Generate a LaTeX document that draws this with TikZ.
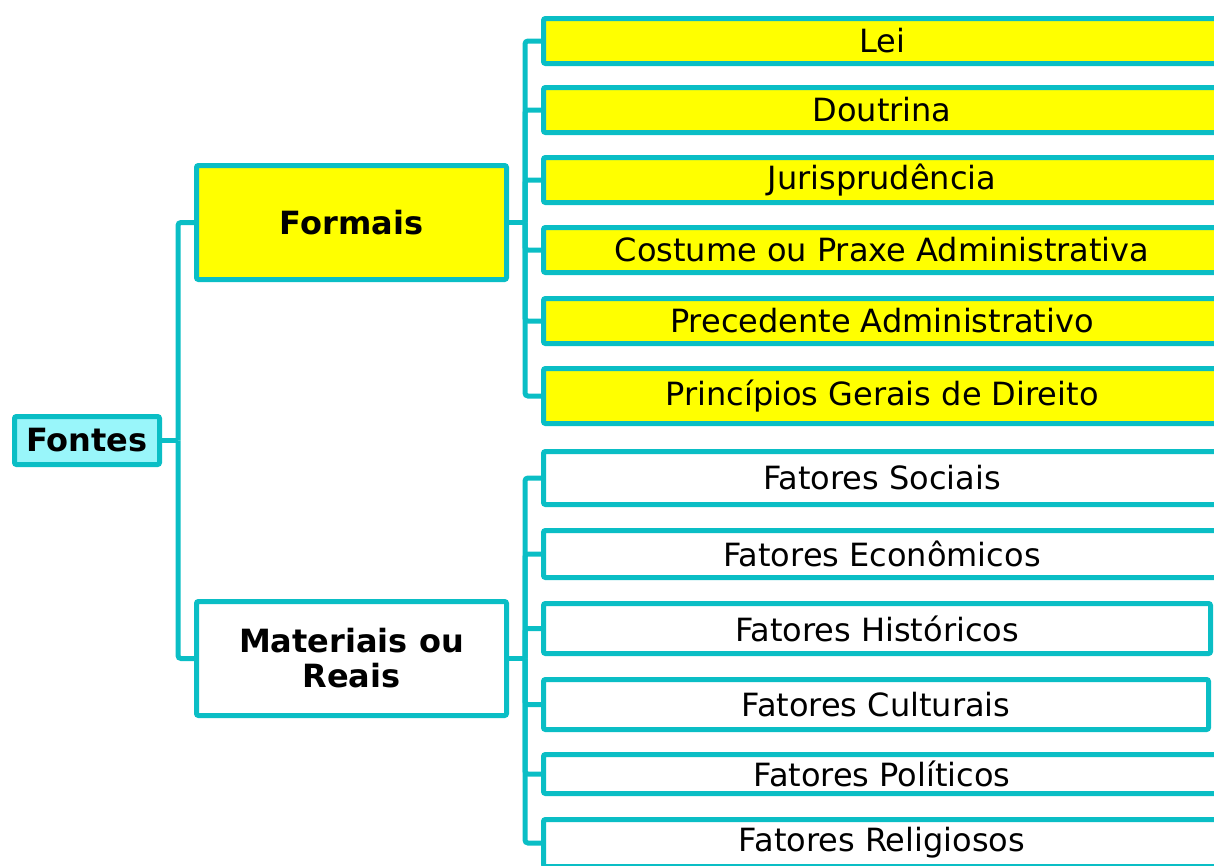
\documentclass[tikz,border=0pt]{standalone}
\usepackage{fontspec}
\setmainfont{DejaVu Sans}
\definecolor{teal1}{RGB}{10,190,197}
\definecolor{cyanfill}{RGB}{153,246,250}
\definecolor{yel}{RGB}{255,255,0}
\tikzset{
  box/.style={draw=teal1, line width=5pt, rounded corners=2pt, inner sep=0pt, align=center,
    font=\fontsize{32}{35}\selectfont},
  rootbox/.style={box, fill=cyanfill, font=\fontsize{32}{35}\selectfont\bfseries},
  midbox/.style={box, font=\fontsize{32}{35}\selectfont\bfseries},
  conn/.style={draw=teal1, line width=5pt, rounded corners=3pt},
}
\newcommand{\obox}[7]{% style, name, x1, y1, x2, y2, text
  \node[#1, minimum width={#5-#3-5}, minimum height={#6-#4-5}] (#2) at ({(#3+#5)/2},{(#4+#6)/2}) {#7};}
\begin{document}
\begin{tikzpicture}[x=1pt,y=-1pt]
\useasboundingbox (0,0) rectangle (1214,865);
\clip (0,0) rectangle (1214,865);
% root
\obox{rootbox}{fontes}{12}{414}{162}{467}{Fontes}
% middle
\obox{midbox, fill=yel}{formais}{194}{163}{509}{282}{Formais}
\obox{midbox, fill=white}{materiais}{194}{599}{509}{718}{Materiais ou\\Reais}
% formais children
\obox{box, fill=yel}{lei}{541}{16}{1223}{66}{Lei}
\obox{box, fill=yel}{doutrina}{541}{85}{1223}{135}{Doutrina}
\obox{box, fill=yel}{juris}{541}{155}{1223}{205}{Jurisprudência}
\obox{box, fill=yel}{costume}{541}{225}{1223}{275}{Costume ou Praxe Administrativa}
\obox{box, fill=yel}{precedente}{541}{296}{1223}{346}{Precedente Administrativo}
\obox{box, fill=yel}{principios}{541}{366}{1223}{426}{Princípios Gerais de Direito}
% materiais children
\obox{box, fill=white}{sociais}{541}{449}{1223}{507}{Fatores Sociais}
\obox{box, fill=white}{economicos}{541}{528}{1223}{580}{Fatores Econômicos}
\obox{box, fill=white}{historicos}{541}{601}{1213}{656}{Fatores Históricos}
\obox{box, fill=white}{culturais}{541}{677}{1211}{732}{Fatores Culturais}
\obox{box, fill=white}{politicos}{541}{752}{1223}{796}{Fatores Políticos}
\obox{box, fill=white}{religiosos}{541}{817}{1223}{869}{Fatores Religiosos}
% connectors root
\draw[conn] (fontes.east) -- ++(16,0) coordinate (rj);
\draw[conn] (rj) |- (formais.west);
\draw[conn] (rj) |- (materiais.west);
% formais group
\draw[conn] (formais.east) -- ++(16,0) coordinate (fj);
\foreach \c in {lei,doutrina,juris,costume,precedente,principios}
  \draw[conn] (fj) |- (\c.west);
% materiais group
\draw[conn] (materiais.east) -- ++(16,0) coordinate (mj);
\foreach \c in {sociais,economicos,historicos,culturais,politicos,religiosos}
  \draw[conn] (mj) |- (\c.west);
\end{tikzpicture}
\end{document}
